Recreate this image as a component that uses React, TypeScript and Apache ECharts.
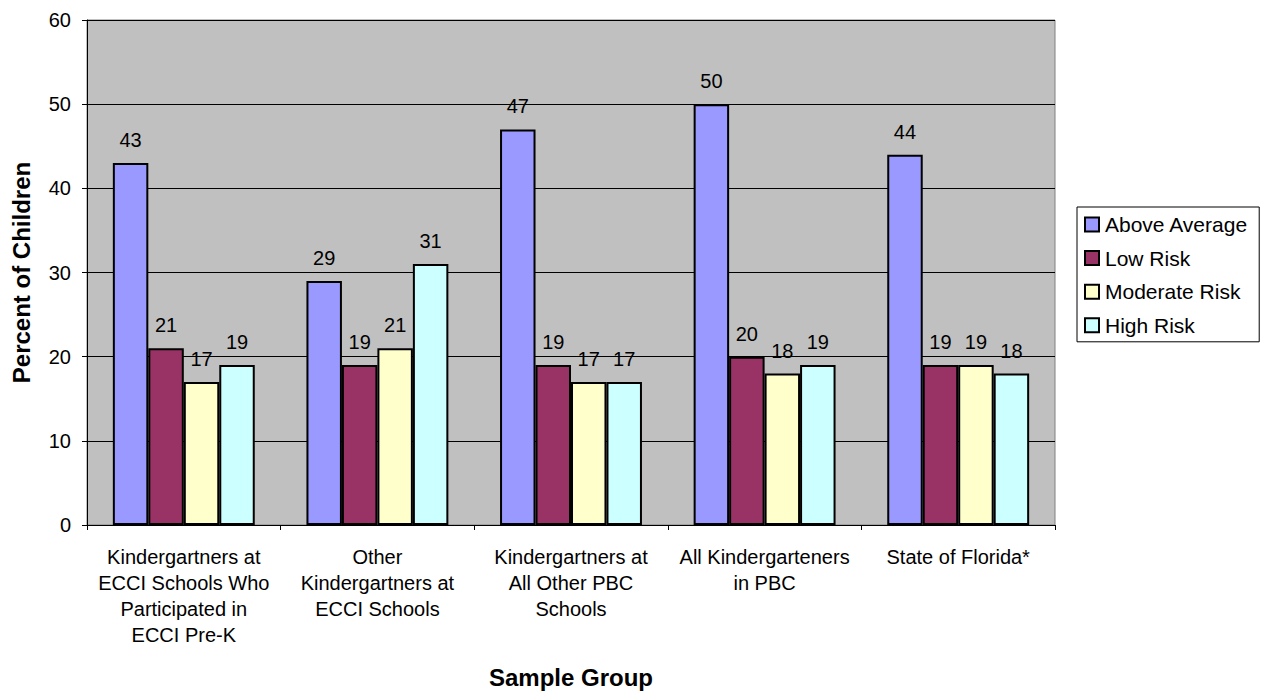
import React, { useEffect, useRef } from "react";
import * as echarts from "echarts";

const categories = [
  "Kindergartners at\nECCI Schools Who\nParticipated in\nECCI Pre-K",
  "Other\nKindergartners at\nECCI Schools",
  "Kindergartners at\nAll Other PBC\nSchools",
  "All Kindergarteners\nin PBC",
  "State of Florida*",
];
const seriesNames = ["Above Average", "Low Risk", "Moderate Risk", "High Risk"];
const aboveAverage = [43, 29, 47, 50, 44];
const lowRisk = [21, 19, 19, 20, 19];
const moderateRisk = [17, 21, 17, 18, 19];
const highRisk = [19, 31, 17, 19, 18];
const colors = ["#9999FF", "#993366", "#FFFFCC", "#CCFFFF"];

const FONT = "Arial, 'Liberation Sans', sans-serif";

export default function App() {
  const ref = useRef<HTMLDivElement>(null);
  useEffect(() => {
    if (!ref.current) return;
    const chart = echarts.init(ref.current, undefined, { renderer: "svg" });
    const values = [aboveAverage, lowRisk, moderateRisk, highRisk];
    chart.setOption({
      animation: false,
      textStyle: { fontFamily: FONT },
      grid: { left: 87, right: 212, top: 20, bottom: 166, backgroundColor: "#C0C0C0", show: true, borderColor: "#808080", borderWidth: 1 },
      legend: {
        orient: "vertical",
        left: 1077,
        top: 207,
        padding: [7, 11, 6, 7],
        itemGap: 12.6,
        itemWidth: 14,
        itemHeight: 14,
        backgroundColor: "#FFFFFF",
        borderColor: "#000000",
        borderWidth: 1,
        borderRadius: 0,
        icon: "rect",
        textStyle: { fontSize: 21, lineHeight: 21, color: "#000", fontFamily: FONT, padding: [0, 0, 0, 1] },
        data: seriesNames,
      },
      xAxis: {
        type: "category",
        data: categories,
        name: "Sample Group",
        nameLocation: "middle",
        nameGap: 140,
        nameTextStyle: { fontSize: 24, fontWeight: "bold", color: "#000", fontFamily: FONT },
        axisLine: { lineStyle: { color: "#000", width: 1 } },
        axisTick: { show: true, length: 5, lineStyle: { color: "#000" } },
        axisLabel: { fontSize: 20, color: "#000", lineHeight: 26, margin: 19, verticalAlign: "top", fontFamily: FONT, interval: 0 },
      },
      yAxis: {
        type: "value",
        min: 0,
        max: 60,
        interval: 10,
        name: "Percent of Children",
        nameLocation: "middle",
        nameGap: 54,
        nameTextStyle: { fontSize: 24, fontWeight: "bold", color: "#000", fontFamily: FONT },
        axisLine: { show: true, lineStyle: { color: "#000", width: 1 } },
        axisTick: { show: true, length: 5, lineStyle: { color: "#000" } },
        axisLabel: { fontSize: 20, color: "#000", margin: 16, fontFamily: FONT },
        splitLine: { show: true, lineStyle: { color: "#000", width: 1 } },
      },
      series: seriesNames.map((name, i) => ({
        name,
        type: "bar",
        data: values[i],
        barGap: "0%",
        barCategoryGap: "26.7%",
        itemStyle: { color: colors[i], borderColor: "#000", borderWidth: 2 },
        label: { show: true, position: "top", distance: 13, fontSize: 20, color: "#000", fontFamily: FONT },
      })),
    });
    return () => chart.dispose();
  }, []);
  return <div ref={ref} style={{ width: 1267, height: 694, position: "absolute", left: 0, top: 0, background: "#fff" }} />;
}
